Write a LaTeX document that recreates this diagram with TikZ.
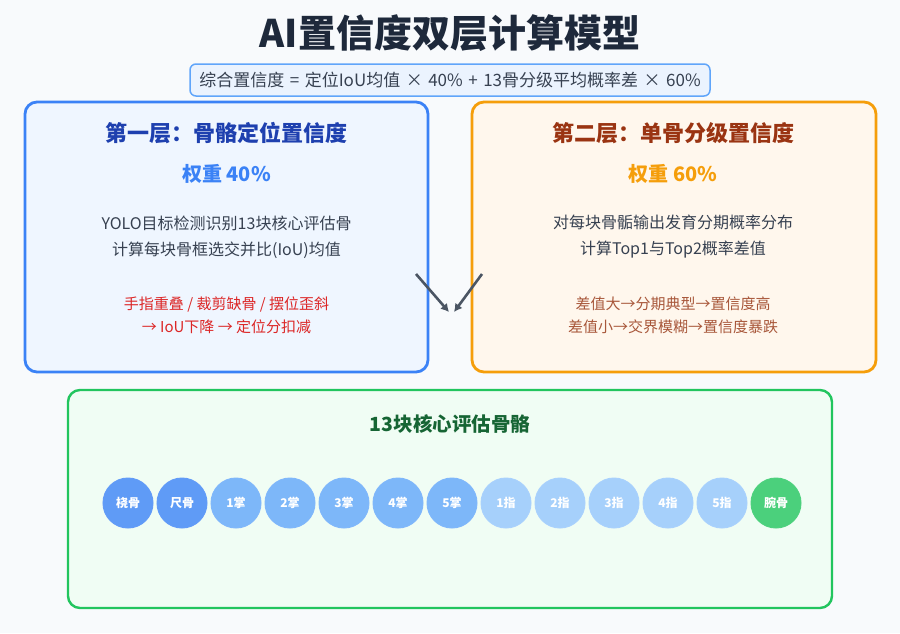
\documentclass[tikz,border=0pt]{standalone}
\usepackage{fontspec}
\setmainfont{Noto Sans CJK SC}
\usetikzlibrary{arrows.meta}
\definecolor{bg}{HTML}{F8FAFC}
\definecolor{titlec}{HTML}{1E293B}
\definecolor{bodyc}{HTML}{374151}
\definecolor{fbfill}{HTML}{EBF3FE}
\definecolor{fbdraw}{HTML}{60A5FA}
\definecolor{lfill}{HTML}{EFF6FF}
\definecolor{ldraw}{HTML}{3B82F6}
\definecolor{ltitle}{HTML}{1E40AF}
\definecolor{lred}{HTML}{DC2626}
\definecolor{rfill}{HTML}{FFF7ED}
\definecolor{rdraw}{HTML}{F59E0B}
\definecolor{rtitle}{HTML}{9A3412}
\definecolor{rred}{HTML}{A8573A}
\definecolor{gfill}{HTML}{F0FDF4}
\definecolor{gdraw}{HTML}{22C55E}
\definecolor{gtitle}{HTML}{166534}
\definecolor{arrowc}{HTML}{4B5563}
\definecolor{cbone}{HTML}{5F9BF6}
\definecolor{cbonee}{HTML}{3B82F6}
\definecolor{cpalm}{HTML}{7DB7F9}
\definecolor{cpalme}{HTML}{60A5FA}
\definecolor{cfing}{HTML}{A6D0FB}
\definecolor{cfinge}{HTML}{93C5FD}
\definecolor{cwrist}{HTML}{4BD07C}
\definecolor{cwriste}{HTML}{22C55E}
\newcommand{\gap}{\hspace{5.5pt}}
\tikzset{
  panel/.style={rounded corners=12pt, line width=2.8pt, inner sep=0pt},
  txt/.style={inner sep=0pt, align=center},
  dot/.style={circle, minimum size=50pt, inner sep=0pt, line width=1pt, text=white, font=\fontsize{12}{14}\selectfont\bfseries},
  arr/.style={draw=arrowc, line width=2.6pt, -{Latex[length=8pt,width=9pt]}},
}
\begin{document}
\begin{tikzpicture}[x=1pt,y=-1pt]
\useasboundingbox (0,0) rectangle (900,633);
\fill[bg] (0,0) rectangle (900,633);

% title
\node[txt, text=titlec, font=\fontsize{38}{44}\selectfont\bfseries] (title) at (450,33) {AI置信度双层计算模型};
\node[draw=fbdraw, fill=fbfill, line width=1.5pt, rounded corners=6pt, minimum width=520pt, minimum height=32pt, inner sep=0pt, text=bodyc, font=\fontsize{17}{20}\selectfont] (formula) at (450,80) {综合置信度\gap{}=\gap{}定位IoU均值\gap{}×\gap{}40\%\gap{}+\gap{}13骨分级平均概率差\gap{}×\gap{}60\%};

% left panel
\node[panel, draw=ldraw, fill=lfill, minimum width=403pt, minimum height=270pt] (L) at (226.5,237) {};
\node[txt, text=ltitle, font=\fontsize{22}{26}\selectfont\bfseries] (Lt) at (226.5,133) {第一层：骨骼定位置信度};
\node[txt, text=ldraw, font=\fontsize{20}{24}\selectfont\bfseries] (Lw) at (226.5,174) {权重 40\%};
\node[txt, text=bodyc, font=\fontsize{16}{26}\selectfont] (Lb) at (226.5,237) {YOLO目标检测识别13块核心评估骨\\计算每块骨框选交并比(IoU)均值};
\node[txt, text=lred, font=\fontsize{15}{23.5}\selectfont] (Lr) at (226.5,315.5) {手指重叠 / 裁剪缺骨 / 摆位歪斜\\→ IoU下降 → 定位分扣减};

% right panel
\node[panel, draw=rdraw, fill=rfill, minimum width=404pt, minimum height=270pt] (R) at (674,237) {};
\node[txt, text=rtitle, font=\fontsize{22}{26}\selectfont\bfseries] (Rt) at (673,133) {第二层：单骨分级置信度};
\node[txt, text=rdraw, font=\fontsize{20}{24}\selectfont\bfseries] (Rw) at (673,174) {权重 60\%};
\node[txt, text=bodyc, font=\fontsize{16}{26}\selectfont] (Rb) at (673,237) {对每块骨骺输出发育分期概率分布\\计算Top1与Top2概率差值};
\node[txt, text=rred, font=\fontsize{15}{23.5}\selectfont] (Rr) at (673,315.5) {差值大→分期典型→置信度高\\差值小→交界模糊→置信度暴跌};

% arrows
\coordinate (a1s) at (416,274);
\coordinate (a1e) at (449,312);
\coordinate (a2s) at (482,274);
\coordinate (a2e) at (454,312);
\draw[arr] (a1s) -- (a1e);
\draw[arr] (a2s) -- (a2e);

% bottom panel
\node[panel, draw=gdraw, fill=gfill, line width=2.4pt, minimum width=764pt, minimum height=218pt] (B) at (450,499) {};
\node[txt, text=gtitle, font=\fontsize{19.5}{23}\selectfont\bfseries] (Bt) at (450,424) {13块核心评估骨骼};

\node[dot, fill=cbone, draw=cbonee!80] (b1) at (128,503) {桡骨};
\node[dot, fill=cbone, draw=cbonee!80] (b2) at (182,503) {尺骨};
\node[dot, fill=cpalm, draw=cpalme!80] (b3) at (236,503) {1掌};
\node[dot, fill=cpalm, draw=cpalme!80] (b4) at (290,503) {2掌};
\node[dot, fill=cpalm, draw=cpalme!80] (b5) at (344,503) {3掌};
\node[dot, fill=cpalm, draw=cpalme!80] (b6) at (398,503) {4掌};
\node[dot, fill=cpalm, draw=cpalme!80] (b7) at (452,503) {5掌};
\node[dot, fill=cfing, draw=cfinge!80] (b8) at (506,503) {1指};
\node[dot, fill=cfing, draw=cfinge!80] (b9) at (560,503) {2指};
\node[dot, fill=cfing, draw=cfinge!80] (b10) at (614,503) {3指};
\node[dot, fill=cfing, draw=cfinge!80] (b11) at (668,503) {4指};
\node[dot, fill=cfing, draw=cfinge!80] (b12) at (722,503) {5指};
\node[dot, fill=cwrist, draw=cwriste!80] (b13) at (776,503) {腕骨};
\end{tikzpicture}
\end{document}
